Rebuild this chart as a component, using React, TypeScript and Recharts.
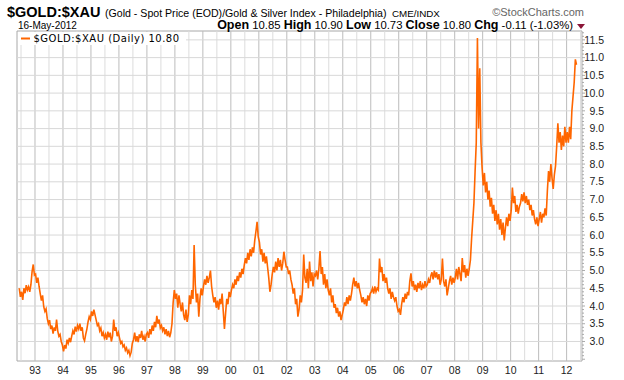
import React from 'react';
import { LineChart, Line, XAxis, YAxis, ReferenceLine } from 'recharts';

// Semi-monthly readings of $GOLD:$XAU (24 per year)
const y1992 = [4.5, 4.26, 4.4, 4.17, 4.5, 4.36, 4.59, 4.45, 4.54, 4.4, 4.6, 4.97, 5.17, 4.87]; // from June
const y1993 = [4.9, 4.65, 4.8, 4.55, 4.35, 4.15, 4.3, 3.98, 3.85, 3.92, 3.65, 3.5, 3.6, 3.35, 3.45, 3.22, 3.4, 3.3, 3.62, 3.3, 3.15, 3.2, 3.0, 2.9];
const y1994 = [2.72, 2.9, 2.8, 3.05, 2.95, 3.1, 2.98, 3.15, 3.3, 3.2, 3.42, 3.28, 3.45, 3.35, 3.5, 3.3, 3.4, 3.1, 3.02, 3.2, 3.35, 3.55, 3.7, 3.62];
const y1995 = [3.85, 3.72, 3.9, 3.75, 3.6, 3.45, 3.5, 3.3, 3.38, 3.15, 3.25, 3.1, 3.2, 3.05, 3.28, 3.12, 3.25, 3.0, 3.15, 3.62, 3.3, 3.4, 3.15, 3.25];
const y1996 = [3.1, 2.95, 3.0, 2.85, 2.9, 2.75, 2.82, 2.68, 2.75, 2.6, 2.7, 2.95, 3.05, 3.25, 3.0, 3.15, 2.98, 3.2, 3.1, 3.3, 3.05, 3.15, 3.0, 3.2];
const y1997 = [3.25, 3.1, 3.35, 3.2, 3.45, 3.3, 3.55, 3.4, 3.72, 3.5, 3.62, 3.38, 3.45, 3.3, 3.4, 3.2, 3.35, 3.15, 3.3, 3.12, 3.25, 3.5, 4.1, 4.45];
const y1998 = [4.2, 4.35, 3.95, 4.3, 4.05, 3.85, 4.1, 3.75, 3.6, 3.9, 3.55, 3.75, 4.3, 4.05, 4.45, 4.2, 5.72, 4.6, 4.1, 4.35, 3.7, 4.2, 4.5, 4.3];
const y1999 = [4.55, 4.75, 4.6, 4.85, 4.65, 4.8, 5.0, 4.55, 4.3, 4.1, 4.25, 3.95, 4.15, 3.9, 4.2, 4.05, 4.35, 3.85, 3.35, 3.8, 4.2, 4.05, 4.4, 4.25];
const y2000 = [4.45, 4.6, 4.5, 4.75, 4.6, 4.85, 4.7, 4.95, 4.8, 5.05, 4.9, 5.15, 5.35, 5.2, 5.5, 5.3, 5.6, 5.4, 5.65, 5.5, 5.85, 6.1, 6.37, 5.95];
const y2001 = [5.8, 5.45, 5.6, 5.25, 5.5, 5.2, 5.4, 5.1, 4.8, 4.4, 4.6, 4.9, 5.1, 4.95, 5.25, 5.0, 5.35, 5.1, 5.3, 5.0, 5.2, 5.53, 5.3, 5.1];
const y2002 = [5.1, 4.9, 5.0, 4.75, 4.6, 4.35, 4.5, 4.05, 4.2, 3.7, 3.9, 4.3, 4.1, 4.45, 5.45, 4.8, 4.65, 5.05, 4.5, 5.25, 4.7, 4.95, 4.55, 4.9];
const y2003 = [4.85, 5.0, 4.75, 5.05, 5.55, 4.9, 5.1, 4.6, 4.9, 4.5, 4.75, 4.45, 4.3, 4.5, 4.1, 4.3, 3.95, 4.05, 3.8, 3.95, 3.7, 3.85, 3.6, 3.75];
const y2004 = [3.9, 4.1, 4.0, 4.25, 4.05, 4.3, 4.15, 4.35, 4.6, 4.8, 4.55, 4.7, 4.5, 4.65, 4.45, 4.3, 4.1, 4.25, 4.05, 4.2, 4.0, 4.3, 4.15, 4.35];
const y2005 = [4.4, 4.5, 4.35, 4.55, 4.4, 4.5, 4.45, 5.34, 4.95, 5.1, 4.7, 4.9, 4.65, 4.8, 4.5, 4.35, 4.5, 4.2, 4.4, 4.25, 4.15, 4.25, 4.0, 3.85];
const y2006 = [3.9, 3.75, 4.05, 4.25, 4.1, 4.35, 4.2, 4.4, 4.3, 4.7, 4.92, 4.55, 4.7, 4.45, 4.6, 4.4, 4.65, 4.5, 4.7, 4.45, 4.6, 4.5, 4.7, 4.55];
const y2007 = [4.6, 4.75, 4.65, 4.85, 4.95, 4.75, 5.0, 4.8, 4.95, 4.75, 4.9, 4.6, 4.75, 5.34, 4.7, 4.55, 4.75, 4.3, 4.5, 4.7, 4.85, 4.6, 4.8, 4.65];
const y2008 = [4.8, 5.05, 4.75, 5.1, 4.9, 4.7, 5.35, 4.95, 5.15, 4.8, 5.05, 4.85, 5.05, 5.3, 5.9, 6.4, 6.9, 7.8, 8.6, 11.55, 9.0, 10.7, 8.6, 7.9];
const y2009 = [7.4, 7.75, 7.2, 7.5, 7.0, 7.25, 6.8, 7.05, 6.6, 6.85, 6.4, 6.7, 6.3, 6.6, 6.15, 6.45, 6.0, 6.35, 5.85, 6.2, 6.5, 6.25, 6.6, 6.4];
const y2010 = [6.7, 7.34, 6.9, 7.1, 6.65, 6.85, 6.6, 6.8, 6.9, 7.15, 6.95, 7.2, 6.9, 7.1, 6.85, 7.0, 6.7, 6.85, 6.55, 6.7, 6.45, 6.3, 6.5, 6.25];
const y2011 = [6.45, 6.65, 6.35, 6.6, 6.5, 6.75, 6.55, 7.25, 7.8, 7.5, 8.0, 7.6, 7.3, 7.7, 7.95, 8.5, 9.15, 8.6, 8.9, 8.4, 8.8, 8.5, 9.05, 8.6];
const y2012 = [8.9, 8.6, 9.05, 8.7, 9.5, 9.9, 10.3, 10.95, 10.8]; // to 16-May

// [year, first semi-month index, values]
const yearSeries: [number, number, number[]][] = [
  [1992, 10, y1992], [1993, 0, y1993], [1994, 0, y1994], [1995, 0, y1995], [1996, 0, y1996],
  [1997, 0, y1997], [1998, 0, y1998], [1999, 0, y1999], [2000, 0, y2000], [2001, 0, y2001],
  [2002, 0, y2002], [2003, 0, y2003], [2004, 0, y2004], [2005, 0, y2005], [2006, 0, y2006],
  [2007, 0, y2007], [2008, 0, y2008], [2009, 0, y2009], [2010, 0, y2010], [2011, 0, y2011],
  [2012, 0, y2012],
];

const yearTicks = [1993, 1994, 1995, 1996, 1997, 1998, 1999, 2000, 2001, 2002, 2003, 2004, 2005, 2006, 2007, 2008, 2009, 2010, 2011, 2012];
const yearLabels = ['93', '94', '95', '96', '97', '98', '99', '00', '01', '02', '03', '04', '05', '06', '07', '08', '09', '10', '11', '12'];
const halfYearTicks = [1992.5, ...yearTicks.map((y) => y + 0.5)];
const allXTicks = [...halfYearTicks, ...yearTicks].sort((a, b) => a - b);
const priceLabels = ['3.0', '3.5', '4.0', '4.5', '5.0', '5.5', '6.0', '6.5', '7.0', '7.5', '8.0', '8.5', '9.0', '9.5', '10.0', '10.5', '11.0', '11.5'];
const majorTicks = priceLabels.map(Number);
const minorTicks = Array.from({ length: 93 }, (_, i) => Math.round((2.5 + i * 0.1) * 10) / 10);

const X_DOMAIN: [number, number] = [1992.357, 2012.55];
const Y_DOMAIN: [number, number] = [2.45, 11.75];

const data = yearSeries.flatMap(([yr, start, vals]) =>
  vals.map((v, i) => ({ t: yr + (start + i + 0.5) / 24, v }))
);

const FONT = 'Liberation Sans, Arial, sans-serif';
const TICK = 6;
const BORDER = '#a8a8a8';
const W = 624;
const H = 380;
const MARGIN = { top: 31, right: 0, bottom: 0, left: 17 };
const X_AXIS_H = 19;
const Y_AXIS_W = 42;
const PLOT_W = W - MARGIN.left - Y_AXIS_W;
const PLOT_H = H - MARGIN.top - X_AXIS_H;

// Tick that also draws the vertical grid line for its tick value
const XTick = (props: any) => {
  const { x, y, payload } = props;
  const idx = yearTicks.indexOf(payload.value);
  const axisY = y - TICK;
  return (
    <g>
      <line x1={x} x2={x} y1={axisY} y2={axisY - PLOT_H} stroke={idx >= 0 ? '#bcbcbc' : '#dcdcdc'} strokeWidth={1} />
      {idx >= 0 && (
        <text x={x} y={y + 7} textAnchor="middle" fontFamily={FONT} fontSize={10.5} fill="#222">
          {yearLabels[idx]}
        </text>
      )}
    </g>
  );
};

// Tick that also draws the horizontal grid line for major values
const YTick = (props: any) => {
  const { x, y, payload } = props;
  const v = payload.value as number;
  const li = majorTicks.findIndex((m) => Math.abs(m - v) < 1e-6);
  const major = Math.abs(v * 2 - Math.round(v * 2)) < 1e-6;
  const ax = x - TICK;
  return (
    <g>
      {li >= 0 && <line x1={ax - PLOT_W} x2={ax} y1={y} y2={y} stroke="#d8d8d8" strokeWidth={1} />}
      <line x1={ax} x2={ax + (major ? 3 : 2)} y1={y} y2={y} stroke="#aaa" strokeWidth={1} />
      {li >= 0 && (
        <text x={ax + 22} y={y} dy="0.35em" textAnchor="end" fontFamily={FONT} fontSize={10.5} fill="#222">
          {priceLabels[li]}
        </text>
      )}
    </g>
  );
};

const layer: React.CSSProperties = { position: 'absolute', left: 0, top: 0 };

export default function App() {
  return (
    <div style={{ position: 'absolute', left: 0, top: 0, width: W, height: H, background: '#fff' }}>
      {/* background: grid, axes, labels, frame */}
      <div style={layer}>
        <LineChart width={W} height={H} data={data} margin={MARGIN}>
          <XAxis type="number" dataKey="t" domain={X_DOMAIN} ticks={allXTicks} interval={0}
            tick={<XTick />} tickLine={false} axisLine={{ stroke: BORDER }} tickSize={TICK} tickMargin={0} height={X_AXIS_H} />
          <YAxis orientation="right" type="number" domain={Y_DOMAIN} ticks={minorTicks} interval={0}
            tick={<YTick />} tickLine={false} axisLine={{ stroke: BORDER }} tickSize={TICK} tickMargin={0} width={Y_AXIS_W} />
          <ReferenceLine x={X_DOMAIN[0]} stroke={BORDER} ifOverflow="visible" />
          <ReferenceLine y={Y_DOMAIN[1]} stroke={BORDER} ifOverflow="visible" />
          <Line type="linear" dataKey="v" stroke="none" dot={false} isAnimationActive={false} />
        </LineChart>
      </div>
      {/* foreground: the price line, same scales */}
      <div style={layer}>
        <LineChart width={W} height={H} data={data} margin={MARGIN}>
          <XAxis type="number" dataKey="t" domain={X_DOMAIN} ticks={yearTicks} tick={false}
            tickLine={false} axisLine={false} height={X_AXIS_H} />
          <YAxis orientation="right" type="number" domain={Y_DOMAIN} ticks={majorTicks} tick={false}
            tickLine={false} axisLine={false} width={Y_AXIS_W} />
          <Line type="linear" dataKey="v" stroke="#ff6600" strokeWidth={1.6}
            dot={false} isAnimationActive={false} />
        </LineChart>
      </div>
      <svg width={W} height={H} style={{ position: 'absolute', left: 0, top: 0, pointerEvents: 'none' }}>
        <text x={7} y={17} fontFamily={FONT} fontSize={14.5} fontWeight="bold" fill="#000">$GOLD:$XAU</text>
        <text x={105} y={17} fontFamily={FONT} fontSize={10.6} fill="#000">(Gold - Spot Price (EOD)/Gold &amp; Silver Index - Philadelphia)</text>
        <text x={392} y={17} fontFamily={FONT} fontSize={9.8} fill="#000">CME/INDX</text>
        <text x={584} y={16} textAnchor="end" fontFamily={FONT} fontSize={11} fill="#666">©StockCharts.com</text>
        <text x={18} y={28.5} fontFamily={FONT} fontSize={10} fill="#000">16-May-2012</text>
        <text x={573} y={29} textAnchor="end" fontFamily={FONT} fill="#000">
          <tspan fontWeight="bold" fontSize={12.5}>Open</tspan>
          <tspan fontSize={11.3}> 10.85 </tspan>
          <tspan fontWeight="bold" fontSize={12.5}>High</tspan>
          <tspan fontSize={11.3}> 10.90 </tspan>
          <tspan fontWeight="bold" fontSize={12.5}>Low</tspan>
          <tspan fontSize={11.3}> 10.73 </tspan>
          <tspan fontWeight="bold" fontSize={12.5}>Close</tspan>
          <tspan fontSize={11.3}> 10.80 </tspan>
          <tspan fontWeight="bold" fontSize={12.5}>Chg</tspan>
          <tspan fontSize={11.3}> -0.11 (-1.03%)</tspan>
        </text>
        <polygon points="577,24 585,24 581,29" fill="#8b1538" />
        <rect x={18} y={32} width={168} height={13} fill="#fff" />
        <line x1={21} x2={30} y1={38.5} y2={38.5} stroke="#ff6600" strokeWidth={2} />
        <text x={33.5} y={42} fontFamily="DejaVu Sans, Verdana, sans-serif" fontSize={10} letterSpacing={0.5} fill="#000">$GOLD:$XAU (Daily) 10.80</text>
      </svg>
    </div>
  );
}
